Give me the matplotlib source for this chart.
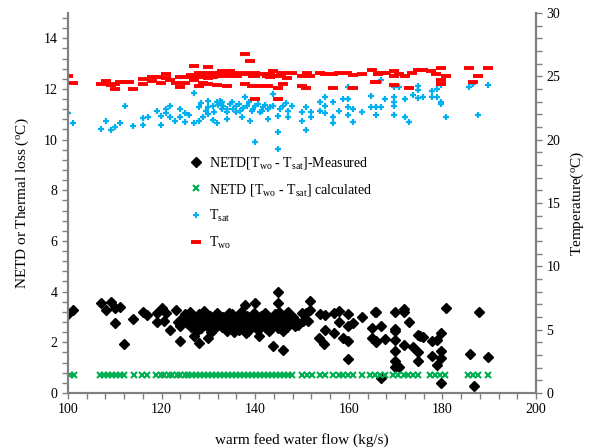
import matplotlib.pyplot as plt
from matplotlib.ticker import MultipleLocator

plt.rcParams['font.family'] = ['Liberation Serif', 'DejaVu Serif']
plt.rcParams['mathtext.fontset'] = 'custom'
plt.rcParams['mathtext.rm'] = 'Liberation Serif'
plt.rcParams['mathtext.it'] = 'Liberation Serif:italic'

# measured NETD [Two - Tsat] (flow kg/s, degC)
netd_measured = [
    (100.1, 3.10), (101.1, 3.27), (107.1, 3.56), (108.1, 3.27), (109.1, 3.59),
    (110.1, 3.35), (111.1, 3.40), (110.1, 2.77), (112.0, 1.93), (114.0, 2.91),
    (116.0, 3.21), (116.8, 3.08), (119.1, 3.16), (120.1, 3.34), (119.1, 2.80),
    (120.5, 2.82), (120.9, 3.16), (121.9, 2.49), (123.0, 3.27), (124.0, 2.06),
    (124.0, 2.63), (125.1, 3.10), (126.1, 3.16), (126.9, 2.25), (128.0, 1.97),
    (130.0, 2.17), (123.5, 2.80), (124.5, 3.00), (124.0, 2.70),
    (125.0, 2.95), (125.4, 2.75), (125.8, 3.05), (126.2, 2.60), (126.6, 2.85),
    (127.0, 3.00), (127.3, 2.70), (127.7, 2.90), (128.1, 3.10), (128.5, 2.55),
    (128.8, 2.80), (129.2, 2.95), (129.6, 2.65), (130.0, 2.85), (130.3, 3.05),
    (130.7, 2.75), (131.0, 2.50), (131.4, 2.90), (131.8, 3.15), (132.1, 2.70),
    (132.5, 2.85), (132.9, 2.60), (133.2, 3.00), (133.6, 2.80), (134.0, 2.45),
    (134.3, 2.95), (134.7, 2.70), (135.0, 3.10), (135.4, 2.85), (135.8, 2.60),
    (136.1, 2.95), (136.5, 2.75), (136.9, 3.20), (137.2, 2.55), (137.6, 2.90),
    (138.0, 2.70), (138.3, 3.05), (138.7, 2.80), (139.1, 2.60), (139.4, 2.95),
    (139.8, 3.15), (140.2, 2.75), (140.5, 2.50), (140.9, 2.90), (141.3, 3.05),
    (141.6, 2.70), (142.0, 2.85), (142.4, 2.55), (142.7, 3.00), (143.1, 2.75),
    (143.5, 2.90), (143.8, 2.65), (144.2, 3.10), (144.6, 2.80), (144.9, 2.55),
    (145.3, 2.95), (145.7, 2.70), (146.1, 3.05), (146.4, 2.85), (146.8, 2.60),
    (147.2, 2.90), (147.6, 2.75), (148.0, 3.00), (148.4, 2.65), (148.8, 2.85),
    (149.2, 2.70), (126.0, 3.20), (127.5, 2.45), (129.0, 3.25), (130.5, 2.40),
    (132.0, 2.95), (133.5, 2.55), (134.5, 3.15), (135.5, 2.40), (136.5, 2.50),
    (137.5, 3.05), (138.5, 2.45), (139.5, 2.70), (140.0, 2.95), (141.0, 2.60),
    (142.0, 3.15), (143.0, 2.45), (144.0, 2.95), (145.0, 3.20), (146.0, 2.45),
    (147.0, 3.20), (137.8, 3.46), (140.0, 3.53), (138.0, 2.37), (140.9, 2.26),
    (144.9, 4.00), (144.9, 3.56), (143.9, 1.84), (145.9, 1.68), (151.7, 3.62),
    (146.0, 2.83), (146.7, 3.16), (147.4, 2.83), (149.9, 3.16), (150.3, 2.83),
    (150.9, 3.16), (151.3, 2.83), (151.7, 3.29), (153.8, 3.10), (154.9, 3.06),
    (153.7, 2.17), (154.8, 1.93), (154.9, 2.50), (156.9, 2.37), (156.9, 3.16),
    (157.8, 3.23), (157.8, 2.79), (159.9, 3.10), (160.8, 2.77), (159.9, 2.63),
    (158.8, 2.17), (159.8, 2.04), (159.8, 1.34), (162.8, 3.00), (165.6, 3.19),
    (164.9, 2.57), (164.9, 2.17), (165.8, 2.04), (165.8, 3.20), (166.8, 2.63),
    (165.8, 2.01), (166.8, 0.58), (167.8, 2.13), (169.8, 3.19), (169.8, 2.53),
    (169.8, 2.43), (169.8, 2.10), (169.8, 1.67), (169.8, 1.24), (169.8, 1.02),
    (170.8, 1.02), (171.8, 3.32), (171.8, 3.19), (172.8, 2.79), (171.8, 1.90),
    (173.8, 1.80), (174.8, 1.60), (174.8, 1.24), (174.7, 2.30), (175.2, 2.23),
    (175.8, 2.19), (177.8, 2.06), (178.8, 2.10), (179.8, 2.37), (177.8, 1.44),
    (178.8, 1.11), (179.8, 1.64), (179.8, 1.38), (179.8, 0.41), (180.8, 3.36),
    (185.8, 1.54), (187.8, 3.19), (186.8, 0.28), (189.7, 1.42),
]

# calculated NETD [Two - Tsat]
calc_flow = [
    100.4, 101.3, 106.8, 107.7, 108.5, 109.4, 110.3, 111.1, 112.0, 114.1,
    115.9, 116.9, 118.9, 119.8, 120.6, 121.5, 122.3, 123.2, 124.0, 124.9,
    125.7, 126.6, 127.4, 128.3, 129.1, 130.0, 130.8, 131.7, 132.5, 133.4,
    134.2, 135.1, 135.9, 136.8, 137.6, 138.5, 139.3, 140.2, 141.0, 141.9,
    142.7, 143.6, 144.4, 145.3, 146.1, 147.0, 147.8, 149.9, 151.0, 152.1,
    153.8, 154.9, 156.7, 157.8, 158.8, 159.9, 161.0, 162.8, 164.5, 165.6,
    166.7, 167.7, 169.5, 170.6, 171.7, 172.7, 173.8, 174.8, 177.4, 178.4,
    179.5, 180.6, 185.5, 186.6, 187.7, 189.7,
]
calc_netd = [
    0.70, 0.70, 0.70, 0.70, 0.70, 0.70, 0.70, 0.70, 0.70, 0.70,
    0.70, 0.70, 0.70, 0.70, 0.70, 0.70, 0.70, 0.70, 0.70, 0.70,
    0.70, 0.70, 0.70, 0.70, 0.70, 0.70, 0.70, 0.70, 0.70, 0.70,
    0.70, 0.70, 0.70, 0.70, 0.70, 0.70, 0.70, 0.70, 0.70, 0.70,
    0.70, 0.70, 0.70, 0.70, 0.70, 0.70, 0.70, 0.70, 0.70, 0.70,
    0.70, 0.70, 0.70, 0.70, 0.70, 0.70, 0.70, 0.70, 0.70, 0.70,
    0.70, 0.70, 0.70, 0.70, 0.70, 0.70, 0.70, 0.70, 0.70, 0.70,
    0.70, 0.70, 0.70, 0.70, 0.70, 0.70,
]

# saturation temperature Tsat (right axis)
t_sat = [
    (100.1, 22.07), (101.1, 21.28), (107.1, 20.84), (108.1, 21.47), (109.1, 20.76),
    (110.1, 21.02), (111.1, 21.28), (112.1, 22.65), (114.0, 21.08), (116.0, 21.18),
    (116.0, 21.71), (117.0, 21.81), (119.0, 22.28), (119.9, 21.18), (119.9, 21.89),
    (120.9, 22.42), (120.9, 22.07), (121.9, 22.65), (121.9, 21.78), (122.9, 21.44),
    (123.9, 22.39), (123.9, 21.78), (124.9, 22.07), (124.9, 21.39), (125.9, 21.91),
    (126.9, 23.65), (126.9, 21.28), (127.9, 22.54), (127.9, 21.50), (128.9, 21.81),
    (129.9, 23.07), (129.9, 22.54), (129.9, 22.02), (130.9, 22.68), (130.9, 21.55),
    (131.9, 22.94), (131.9, 21.28), (132.9, 22.42), (132.5, 23.07), (133.2, 22.68),
    (133.9, 22.15), (133.9, 21.63), (134.6, 22.81), (135.3, 22.42), (136.0, 22.68),
    (136.8, 22.28), (137.1, 21.78), (137.8, 23.33), (138.2, 22.68), (138.9, 21.50),
    (139.3, 22.28), (140.0, 22.68), (140.0, 19.79), (141.0, 22.15), (141.7, 22.54),
    (142.8, 22.42), (142.8, 21.63), (143.9, 23.60), (143.9, 22.68), (144.9, 21.89),
    (144.9, 20.57), (144.9, 19.27), (146.0, 22.68), (147.1, 22.28), (147.1, 21.81),
    (147.8, 22.68), (149.9, 22.15), (149.9, 21.50), (150.9, 22.60), (150.9, 20.76),
    (151.9, 22.15), (151.9, 21.81), (153.8, 22.94), (153.8, 22.28), (154.9, 23.33),
    (154.9, 22.68), (154.9, 22.07), (156.7, 22.94), (156.7, 21.81), (156.7, 21.28),
    (157.8, 22.28), (158.8, 23.20), (159.8, 24.12), (159.8, 23.20), (159.8, 22.60),
    (159.8, 21.97), (160.8, 22.42), (160.8, 21.36), (162.8, 22.15), (164.7, 23.46),
    (164.7, 22.60), (165.8, 22.60), (165.8, 21.97), (166.9, 24.70), (165.8, 22.54),
    (166.9, 22.60), (167.8, 23.20), (169.7, 24.12), (169.7, 23.39), (169.7, 22.94),
    (169.7, 22.68), (169.7, 21.97), (170.8, 24.12), (171.9, 23.20), (171.9, 21.81),
    (172.8, 21.36), (173.8, 23.54), (174.7, 24.25), (174.7, 23.91), (174.7, 23.28),
    (175.8, 23.39), (177.8, 23.86), (177.8, 23.39), (178.8, 23.99), (178.8, 23.39),
    (179.8, 24.33), (179.8, 22.94), (179.8, 22.81), (180.8, 21.76), (185.6, 24.17),
    (186.6, 24.39), (187.7, 21.97), (189.7, 24.33), (128.4, 22.90), (129.4, 22.30),
    (131.2, 22.20), (132.0, 22.75), (133.0, 22.95), (134.0, 22.40), (135.0, 22.95),
    (135.8, 22.20), (136.5, 22.85), (137.3, 22.50), (138.6, 22.95), (139.6, 22.45),
    (140.6, 22.85), (141.4, 22.30), (142.2, 22.75), (143.2, 22.55), (145.4, 22.40),
    (146.5, 22.90),
]

# warm water outlet temperature Two (right axis)
t_wo = [
    (100.1, 25.06), (101.1, 24.49), (107.1, 24.38), (108.1, 24.65), (109.1, 24.33),
    (110.1, 23.96), (110.1, 24.38), (111.1, 24.54), (112.1, 24.54), (113.1, 24.54),
    (114.0, 23.96), (116.0, 24.43), (116.0, 24.78), (118.0, 24.96), (118.0, 24.65),
    (119.0, 24.96), (119.9, 24.49), (120.9, 25.17), (120.9, 24.86), (121.9, 24.70),
    (123.0, 24.49), (123.9, 24.91), (123.9, 24.17), (124.9, 24.91), (124.9, 24.49),
    (125.9, 24.96), (126.9, 25.85), (126.9, 24.70), (127.9, 25.28), (127.9, 24.23),
    (128.9, 24.96), (128.9, 24.49), (129.9, 25.75), (129.9, 25.28), (129.9, 24.86),
    (129.9, 24.43), (130.9, 25.17), (130.9, 24.91), (131.9, 25.28), (131.9, 24.28),
    (132.9, 25.06), (132.9, 25.43), (137.8, 26.75), (138.9, 26.22), (132.5, 25.30),
    (133.5, 25.17), (134.6, 25.43), (135.0, 25.04), (135.7, 25.30), (136.8, 25.17),
    (137.8, 25.30), (138.9, 25.17), (140.0, 25.30), (140.0, 25.04), (141.0, 25.17),
    (142.1, 25.17), (143.2, 25.17), (143.2, 24.91), (143.9, 25.43), (144.9, 25.04),
    (146.0, 25.30), (146.7, 24.86), (147.8, 25.30), (149.9, 25.04), (151.0, 25.30),
    (151.7, 25.04), (153.8, 25.30), (154.9, 25.17), (156.7, 25.17), (157.8, 25.30),
    (159.6, 25.30), (161.0, 25.12), (162.8, 25.17), (164.9, 25.48), (165.6, 24.59),
    (133.9, 24.25), (137.8, 24.39), (139.3, 24.25), (141.0, 24.25), (142.8, 24.25),
    (144.9, 24.07), (146.0, 24.43), (149.9, 24.25), (150.9, 24.07), (156.7, 24.07),
    (160.8, 24.07), (140.0, 23.20), (144.9, 23.20), (166.2, 25.17), (166.9, 25.25),
    (168.0, 25.25), (169.7, 25.38), (169.7, 25.04), (170.8, 25.17), (171.9, 25.04),
    (173.6, 25.25), (174.7, 25.48), (175.8, 25.48), (177.6, 25.38), (178.6, 25.17),
    (179.7, 25.62), (180.8, 25.04), (169.7, 24.33), (172.8, 24.04), (179.7, 24.70),
    (179.7, 24.43), (185.6, 25.64), (187.7, 25.04), (186.6, 24.59), (189.7, 25.64),
    (165.8, 24.59), (126.2, 25.10), (127.2, 24.95), (128.4, 25.15), (131.4, 25.05),
    (134.2, 25.10), (136.2, 25.00), (139.6, 25.05), (142.6, 25.05), (145.5, 25.10),
]

fig = plt.figure(figsize=(5.91, 4.48), dpi=100)
ax = fig.add_axes([0.115, 0.123, 0.792, 0.848])
ax2 = ax.twinx()

x, y = zip(*netd_measured)
h1, = ax.plot(x, y, 'D', color='black', ms=5, ls='none',
              label=r'NETD[T$_\mathrm{wo}$ - T$_\mathrm{sat}$]-Measured')
h2, = ax.plot(calc_flow, calc_netd, 'x', color='#00b050', ms=4, mew=1.5, ls='none',
              label=r'NETD [T$_\mathrm{wo}$ - T$_\mathrm{sat}$] calculated')
x, y = zip(*t_sat)
h3, = ax2.plot(x, y, '+', color='#00b0f0', ms=5, mew=1.6, ls='none',
               label=r'T$_\mathrm{sat}$')
x, y = zip(*t_wo)
h4, = ax2.plot(x, y, '_', color='#ff0000', ms=7, mew=2.8, ls='none',
               label=r'T$_\mathrm{wo}$')

ax.set_xlim(100, 200)
ax.set_ylim(0, 15)
ax2.set_ylim(0, 30)

ax.xaxis.set_major_locator(MultipleLocator(20))
ax.xaxis.set_minor_locator(MultipleLocator(4))
ax.yaxis.set_major_locator(MultipleLocator(2))
ax.yaxis.set_minor_locator(MultipleLocator(0.4))
ax2.yaxis.set_major_locator(MultipleLocator(5))
ax2.yaxis.set_minor_locator(MultipleLocator(1))

for a in (ax, ax2):
    a.spines['top'].set_visible(False)
    for s in ('left', 'right', 'bottom'):
        a.spines[s].set_color('#808080')
        a.spines[s].set_linewidth(1.5)
    a.tick_params(which='both', direction='out', length=4, width=1,
                  color='#808080', labelsize=10)

ax.set_xlabel('warm feed water flow (kg/s)', fontsize=11, labelpad=12)
ax.set_ylabel(r'NETD or Thermal loss ($^\mathrm{o}$C)', fontsize=11, labelpad=9)
ax2.set_ylabel(r'Temperature($^\mathrm{o}$C)', fontsize=11, labelpad=6)

ax2.legend(handles=[h1, h2, h3, h4], loc='upper left', bbox_to_anchor=(0.25, 0.64),
           frameon=False, fontsize=10, labelspacing=0.75, handlelength=0.8,
           handletextpad=0.5, borderaxespad=0)

fig.savefig('out.png', dpi=100)
